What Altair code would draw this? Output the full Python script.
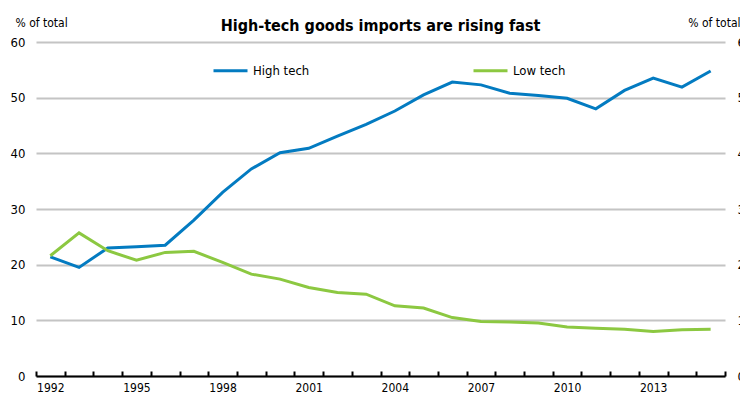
import altair as alt
import pandas as pd

years = list(range(1992, 2016))
high_tech = [21.4, 19.5, 23.0, 23.2, 23.5, 28.0, 33.0, 37.2, 40.1, 40.9, 43.1, 45.2,
             47.6, 50.5, 52.8, 52.3, 50.8, 50.4, 49.9, 48.0, 51.3, 53.5, 51.9, 54.8]
low_tech = [21.6, 25.7, 22.5, 20.8, 22.2, 22.4, 20.4, 18.3, 17.4, 15.9, 15.0, 14.7,
            12.6, 12.2, 10.5, 9.8, 9.7, 9.5, 8.8, 8.6, 8.4, 8.0, 8.3, 8.4]
series_names = ["High tech", "Low tech"]
series_colors = ["#037BC1", "#8CC841"]
y_ticks = [0, 10, 20, 30, 40, 50, 60]
label_years = [1992, 1995, 1998, 2001, 2004, 2007, 2010, 2013]
title_text = "High-tech goods imports are rising fast"
unit = "% of total"

df = pd.DataFrame({
    "year": years * 2,
    "value": high_tech + low_tech,
    "series": [series_names[0]] * len(years) + [series_names[1]] * len(years),
})
boundaries = [y - 0.5 for y in years] + [years[-1] + 0.5]

FONT = "DejaVu Sans Condensed, Liberation Sans, sans-serif"
W, H = 689, 334
xscale = alt.Scale(domain=[years[0] - 0.5, years[-1] + 0.5], nice=False, zero=False)
yscale = alt.Scale(domain=[0, 60], nice=False)

lines = alt.Chart(df).mark_line(strokeWidth=3).encode(
    x=alt.X("year:Q", scale=xscale,
            axis=alt.Axis(orient="bottom", values=label_years, format="d", title=None, grid=False,
                          ticks=False, domain=True, domainColor="#000000", domainWidth=2,
                          labelFont=FONT, labelFontSize=12, labelColor="#000000",
                          labelPadding=6)),
    y=alt.Y("value:Q", scale=yscale,
            axis=alt.Axis(values=y_ticks, title=unit, titleAngle=0, titleX=-21, titleY=-20,
                          titleAlign="left", titleBaseline="middle", titleFont=FONT,
                          titleFontSize=12, titleFontWeight="normal", titleColor="#000000",
                          grid=True, gridColor="#C4C4C4", gridWidth=2, domain=False,
                          ticks=False, labelFont=FONT, labelFontSize=13,
                          labelColor="#000000", labelPadding=11)),
    color=alt.Color("series:N", scale=alt.Scale(domain=series_names, range=series_colors),
                    legend=alt.Legend(orient="none", legendX=176, legendY=10,
                                      direction="horizontal", columns=2, columnPadding=157,
                                      title=None, symbolType="stroke", symbolStrokeWidth=3,
                                      symbolSize=1156, labelFont=FONT, labelFontSize=13,
                                      labelColor="#000000", labelOffset=4)),
)

right_axis = alt.Chart(df).mark_line(opacity=0).encode(
    x=alt.X("year:Q", scale=xscale, axis=None),
    y=alt.Y("value:Q", scale=yscale,
            axis=alt.Axis(orient="right", values=y_ticks, title=unit, titleAngle=0,
                          titleX=15, titleY=-20, titleAlign="right", titleBaseline="middle",
                          titleFont=FONT, titleFontSize=12, titleFontWeight="normal",
                          titleColor="#000000", grid=False, domain=False, ticks=False,
                          labelFont=FONT, labelFontSize=13, labelColor="#000000",
                          labelPadding=12)),
)

tick_df = pd.DataFrame({"b": boundaries})
ticks = alt.Chart(tick_df).mark_point(opacity=0).encode(
    x=alt.X("b:Q", scale=xscale,
            axis=alt.Axis(orient="top", values=boundaries, offset=-H, labels=False,
                          domain=False, grid=False, ticks=True, tickSize=5, tickWidth=2,
                          tickColor="#000000", title=None)),
)

chart = alt.layer(lines, right_axis, ticks).resolve_scale(y="independent").resolve_axis(
    x="independent").properties(
    width=W, height=H,
    title=alt.TitleParams(title_text, font=FONT, fontSize=16, fontWeight="bold",
                          color="#000000", anchor="middle", frame="group", dy=22),
    autosize="none",
    padding={"left": 28, "top": 34, "right": 15, "bottom": 25},
).configure_view(stroke=None)

chart.save("out.html", embed_options={"renderer": "svg", "actions": False})
